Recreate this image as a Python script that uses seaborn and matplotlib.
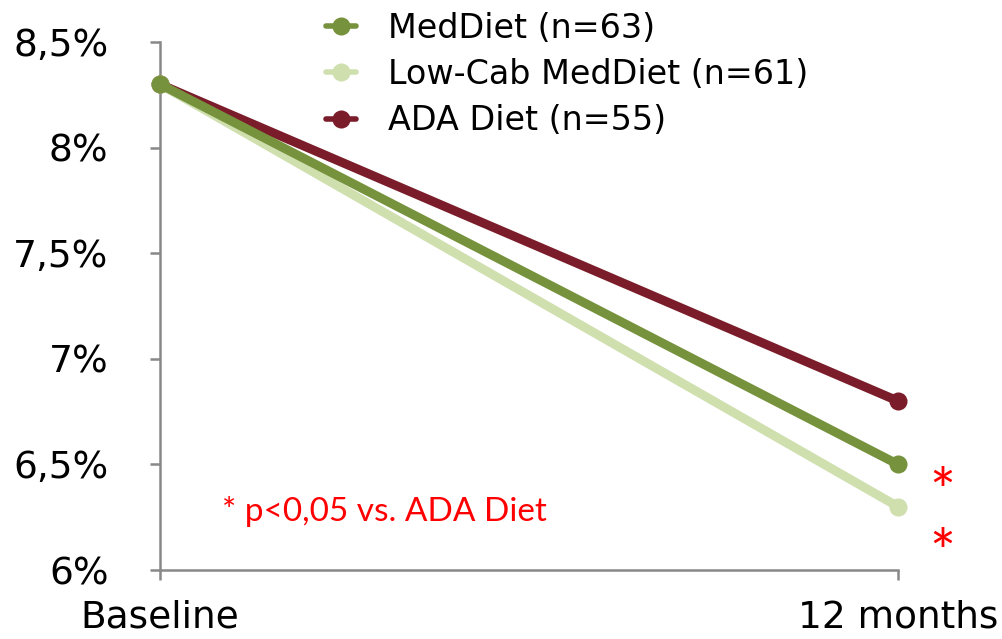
import matplotlib
matplotlib.use("Agg")
import matplotlib.pyplot as plt
import seaborn as sns
import pandas as pd

# HbA1c over time per diet group
timepoints = ["Baseline", "12 months"]
series_names = ["MedDiet (n=63)", "Low-Cab MedDiet (n=61)", "ADA Diet (n=55)"]
meddiet = [8.3, 6.5]
lowcarb_meddiet = [8.3, 6.3]
ada_diet = [8.3, 6.8]
y_ticks = [6.0, 6.5, 7.0, 7.5, 8.0, 8.5]
y_tick_labels = ["6%", "6,5%", "7%", "7,5%", "8%", "8,5%"]
sig_marks_y = [6.38, 6.09]

colors = {"MedDiet (n=63)": "#76923C",
          "Low-Cab MedDiet (n=61)": "#CFDFAE",
          "ADA Diet (n=55)": "#7B1C2A"}
zorders = {"MedDiet (n=63)": 5, "Low-Cab MedDiet (n=61)": 4, "ADA Diet (n=55)": 3}

values = {"MedDiet (n=63)": meddiet,
          "Low-Cab MedDiet (n=61)": lowcarb_meddiet,
          "ADA Diet (n=55)": ada_diet}

sns.set_style("white")
plt.rcParams["font.family"] = ["DejaVu Sans"]
plt.rcParams["text.color"] = "black"

fig = plt.figure(figsize=(10.03, 6.39), dpi=100)
ax = fig.add_axes([160 / 1003, 1 - 570 / 639, 738 / 1003, 528 / 639])

for name in series_names:
    df = pd.DataFrame({"t": range(len(timepoints)), "v": values[name]})
    sns.lineplot(data=df, x="t", y="v", ax=ax, color=colors[name], lw=6.5,
                 marker="o", markersize=13, markeredgewidth=0,
                 label=name, zorder=zorders[name], clip_on=False)

ax.set_xlim(0, 1)
ax.set_ylim(6.0, 8.5)
ax.set_xticks(range(len(timepoints)))
ax.set_xticklabels(timepoints, fontsize=27, color="black")
ax.set_yticks(y_ticks)
ax.set_yticklabels(y_tick_labels, fontsize=27, color="black")
ax.set_xlabel("")
ax.set_ylabel("")

for side in ["top", "right"]:
    ax.spines[side].set_visible(False)
for side in ["left", "bottom"]:
    ax.spines[side].set_color("#888888")
    ax.spines[side].set_linewidth(1.8)
ax.tick_params(axis="both", which="major", direction="out", length=7, width=1.8,
               color="#888888", bottom=True, left=True)
ax.tick_params(axis="y", pad=30)
ax.tick_params(axis="x", pad=14)

for y in sig_marks_y:
    ax.text(1.06, y, "*", color="#FF0000", fontsize=44, ha="center", va="center_baseline",
            clip_on=False, family="Lato")

ax.text(0.084, 6.275, "* p<0,05 vs. ADA Diet", color="#FF0000", fontsize=24,
        ha="left", va="center", family="Lato")

leg = ax.legend(loc="upper left", bbox_to_anchor=(303 / 1003, 1.018),
                bbox_transform=fig.transFigure, frameon=False, fontsize=24,
                handlelength=0.9, handletextpad=0.95, labelspacing=0.40,
                borderpad=0.2)
for h in leg.legend_handles:
    h.set_linewidth(4)
for t in leg.get_texts():
    t.set_color("black")

fig.savefig("out.png", dpi=100)
